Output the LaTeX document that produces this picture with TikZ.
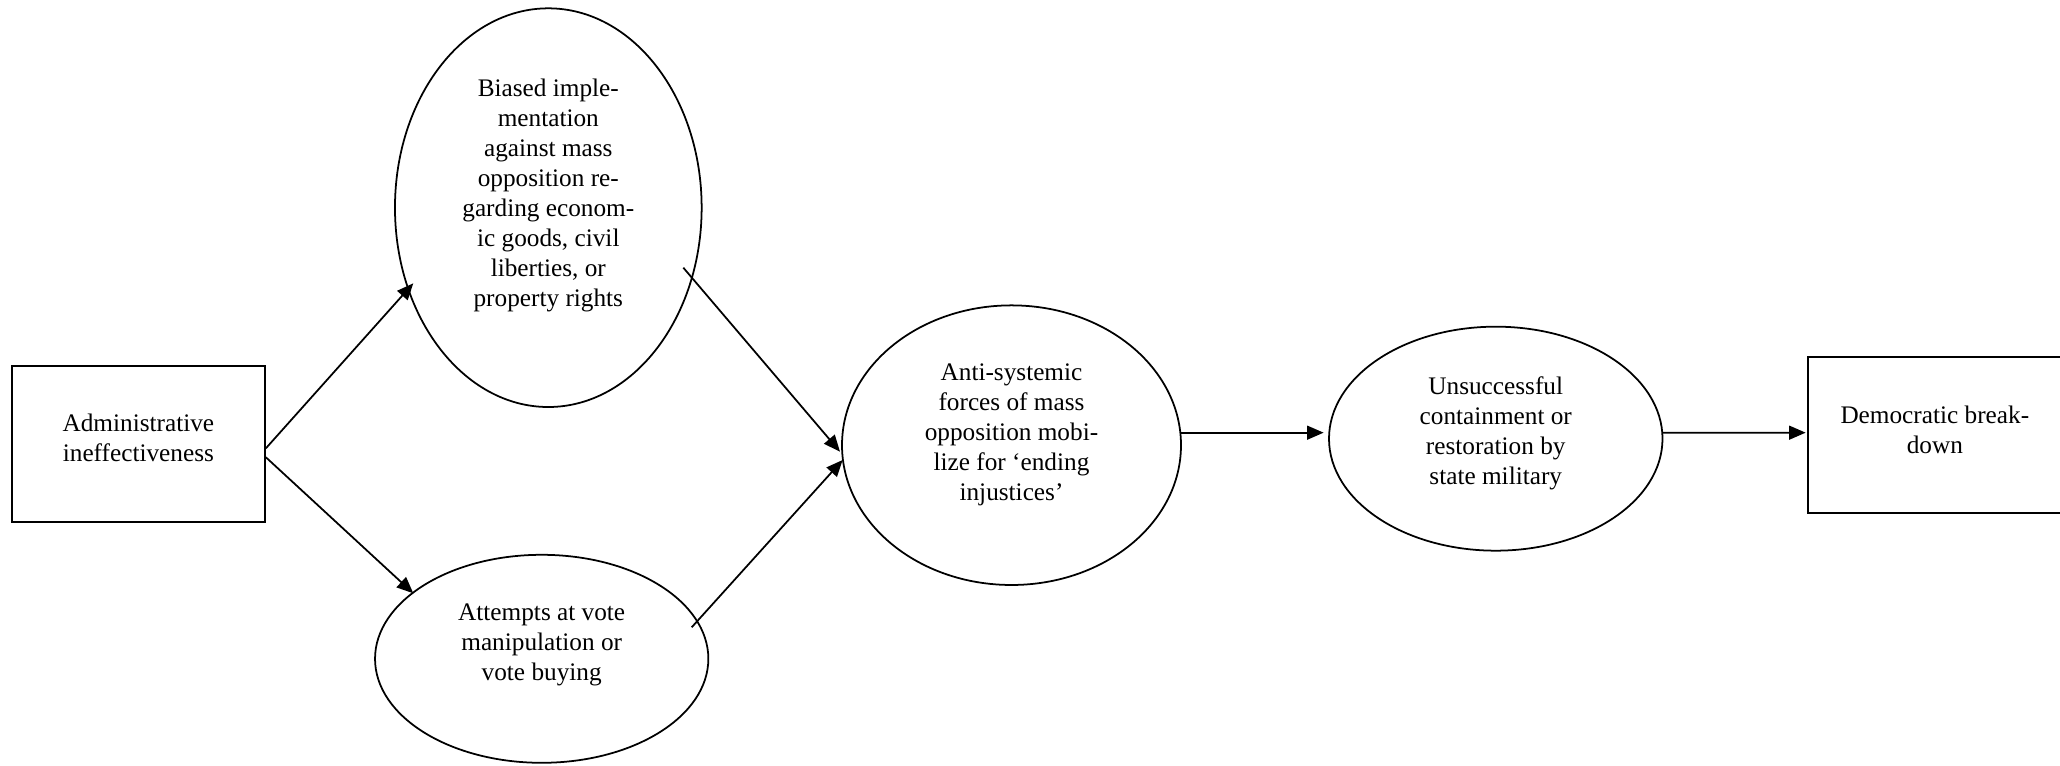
\documentclass[tikz,border=0pt]{standalone}
\usepackage{fontspec}
\setmainfont{Liberation Serif}
\usetikzlibrary{calc,arrows.meta,shapes.geometric}

\tikzset{
  txt/.style={align=center, font=\fontsize{11.5pt}{13.66pt}\selectfont, inner sep=0pt},
  boxnode/.style={draw, line width=0.8pt, minimum width=4.053cm, minimum height=2.496cm},
  ovalnode/.style={draw, ellipse, line width=0.8pt, inner sep=0pt},
  arr/.style={line width=0.8pt, -{Triangle[length=7.5pt,width=6.3pt]}}
}

\begin{document}
\begin{tikzpicture}
  \useasboundingbox (0,0) rectangle (32.96,12.256);
  % boxes
  \node[boxnode, label={[txt,yshift=0.09cm]center:Administrative\\ineffectiveness}] (admin) at (2.214,5.157) {};
  \node[boxnode, label={[txt,yshift=0.08cm]center:Democratic break-\\down}] (dem) at (30.957,5.291) {};
  % ellipses
  \node[ovalnode, minimum width=4.907cm, minimum height=6.379cm,
    label={[txt,yshift=0.19cm]center:Biased imple-\\mentation\\against mass\\opposition re-\\garding econom-\\ic goods, civil\\liberties, or\\property rights}] (biased) at (8.773,8.933) {};
  \node[ovalnode, minimum width=5.333cm, minimum height=3.328cm,
    label={[txt,yshift=0.22cm]center:Attempts at vote\\manipulation or\\vote buying}] (vote) at (8.667,1.715) {};
  \node[ovalnode, minimum width=5.424cm, minimum height=4.474cm,
    label={[txt,yshift=0.16cm]center:Anti-systemic\\forces of mass\\opposition mobi-\\lize for ‘ending\\injustices’}] (anti) at (16.184,5.133) {};
  \node[ovalnode, minimum width=5.336cm, minimum height=3.584cm,
    label={[txt,yshift=0.09cm]center:Unsuccessful\\containment or\\restoration by\\state military}] (uns) at (23.932,5.237) {};
  % arrows
  \draw[arr] ($(admin.east)+(0,-0.074)$) -- ($(biased)+(-2.160,-1.210)$);
  \draw[arr] ($(admin.east)+(0,-0.218)$) -- ($(vote)+(-2.054,1.048)$);
  \draw[arr] ($(biased)+(2.160,-0.960)$) -- ($(anti)+(-2.744,-0.104)$);
  \draw[arr] ($(vote)+(2.400,0.504)$) -- ($(anti)+(-2.701,-0.237)$);
  \draw[arr] ($(anti)+(2.712,0.200)$) -- ($(uns)+(-2.754,0.096)$);
  \draw[arr] ($(uns)+(2.668,0.096)$) -- ($(dem.west)+(-0.026,0.042)$);
\end{tikzpicture}
\end{document}
